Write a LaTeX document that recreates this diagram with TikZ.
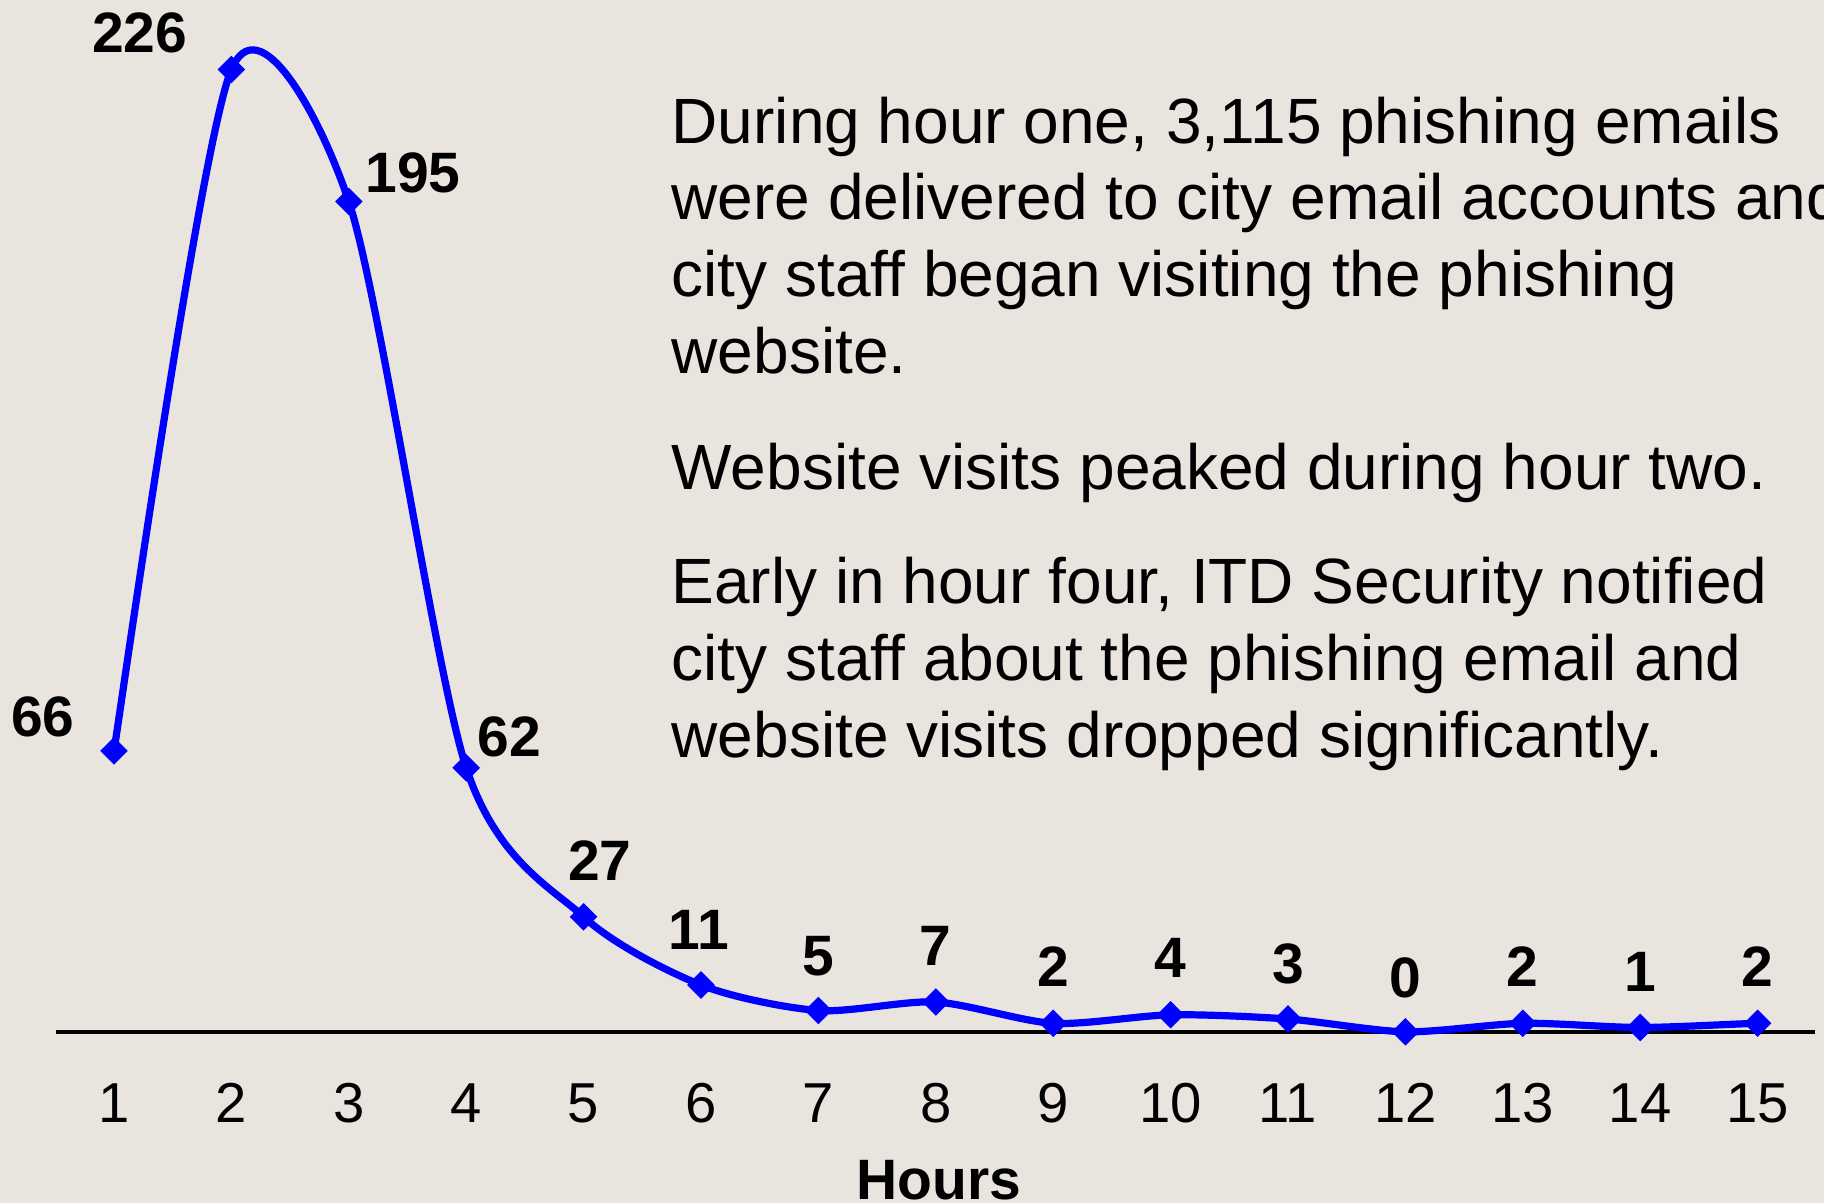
\documentclass[tikz,border=0pt]{standalone}
\usepackage{fontspec}
\setmainfont{Liberation Sans}
\definecolor{bg}{RGB}{233,229,222}
\definecolor{series}{RGB}{0,0,255}
\begin{document}
\begin{tikzpicture}[x=0.01cm,y=-0.01cm,
  para/.style={anchor=base west, inner sep=0pt, font=\fontsize{18.2}{21.8}\selectfont},
  dlabel/.style={anchor=base, inner sep=0pt, font=\fontsize{16.2}{19}\selectfont\bfseries},
  ticklabel/.style={anchor=base, inner sep=0pt, font=\fontsize{16}{19}\selectfont},
  marker/.style={rectangle, rotate=45, fill=series, draw=none, inner sep=0pt, minimum size=0.195cm},
  curve/.style={draw=series, line width=2.05pt},
  axisline/.style={draw=black, line width=1.1pt}]
\useasboundingbox (0,0) rectangle (1824,1203);
\fill[bg] (0,0) rectangle (1824,1203);
\clip (0,0) rectangle (1824,1203);

% data points
\coordinate (p1) at (114.0,750.8);
\coordinate (p2) at (231.4,69.5);
\coordinate (p3) at (348.8,201.5);
\coordinate (p4) at (466.2,767.8);
\coordinate (p5) at (583.6,916.8);
\coordinate (p6) at (701.0,985.0);
\coordinate (p7) at (818.4,1010.5);
\coordinate (p8) at (935.8,1002.0);
\coordinate (p9) at (1053.2,1023.3);
\coordinate (p10) at (1170.6,1014.8);
\coordinate (p11) at (1288.0,1019.0);
\coordinate (p12) at (1405.4,1031.8);
\coordinate (p13) at (1522.8,1023.3);
\coordinate (p14) at (1640.2,1027.5);
\coordinate (p15) at (1757.6,1023.3);

% axis
\coordinate (a0) at (56,1031.8);
\coordinate (a1) at (1815,1031.8);
\draw[axisline] (a0) -- (a1);

% smoothed series
\draw[curve] (p1) .. controls +(5,-30) and +(-30.5,71.4) .. (p2)
  .. controls +(27,-64) and +(-30.5,-90.8) .. (p3)
  .. controls +(30.5,90.8) and +(-30.5,-93.0) .. (p4)
  .. controls +(30.5,93.0) and +(-30.5,-28.2) .. (p5)
  .. controls +(30.5,28.2) and +(-30.5,-12.2) .. (p6)
  .. controls +(30.5,12.2) and +(-30.5,-2.2) .. (p7)
  .. controls +(30.5,2.2) and +(-30.5,-1.7) .. (p8)
  .. controls +(30.5,1.7) and +(-30.5,-1.7) .. (p9)
  .. controls +(30.5,1.7) and +(-30.5,0.6) .. (p10)
  .. controls +(30.5,-0.6) and +(-30.5,-2.2) .. (p11)
  .. controls +(30.5,2.2) and +(-30.5,-0.6) .. (p12)
  .. controls +(30.5,0.6) and +(-30.5,0.6) .. (p13)
  .. controls +(30.5,-0.6) and +(-30.5,0) .. (p14)
  .. controls +(30.5,0) and +(-10,0) .. (p15);

% markers
\foreach \i in {1,...,15} {
  \node[marker] (m\i) at (p\i) {};
}

% data labels
\node[dlabel] (l1) at (43,736) {66};
\node[dlabel] (l2) at (139.6,52.3) {226};
\node[dlabel] (l3) at (413,192) {195};
\node[dlabel] (l4) at (509.5,756) {62};
\node[dlabel] (l5) at (600,880.6) {27};
\node[dlabel] (l6) at (699,949.5) {11};
\node[dlabel] (l7) at (818.4,975) {5};
\node[dlabel] (l8) at (935.8,965.5) {7};
\node[dlabel] (l9) at (1053.2,986.5) {2};
\node[dlabel] (l10) at (1170.6,977) {4};
\node[dlabel] (l11) at (1288.0,983) {3};
\node[dlabel] (l12) at (1405.4,997) {0};
\node[dlabel] (l13) at (1522.8,986.5) {2};
\node[dlabel] (l14) at (1640.2,991) {1};
\node[dlabel] (l15) at (1757.6,986.5) {2};

% tick labels
\foreach \i in {1,...,15} {
  \node[ticklabel] (x\i) at ({114+(\i-1)*117.4},1122.6) {\i};
}
\node[dlabel] (xt) at (939,1199) {Hours};

% annotation text
\node[para] (t1) at (671,143) {During hour one, 3,115 phishing emails};
\node[para] (t2) at (671,219.8) {were delivered to city email accounts and};
\node[para] (t3) at (671,296.6) {city staff began visiting the phishing};
\node[para] (t4) at (671,373.4) {website.};
\node[para] (t5) at (671,489) {Website visits peaked during hour two.};
\node[para] (t6) at (671,603.6) {Early in hour four, ITD Security notified};
\node[para] (t7) at (671,680.4) {city staff about the phishing email and};
\node[para] (t8) at (671,757.2) {website visits dropped significantly.};
\end{tikzpicture}
\end{document}
